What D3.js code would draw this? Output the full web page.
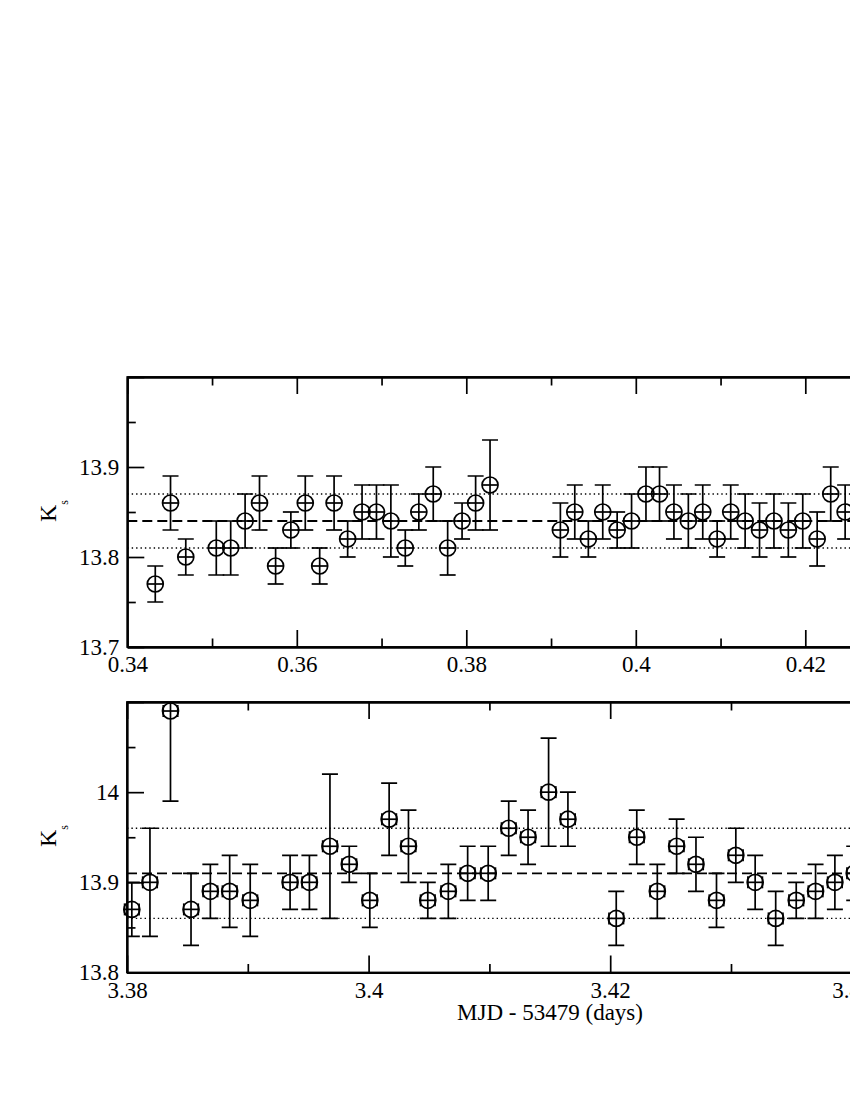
<!DOCTYPE html>
<html>
<head>
<meta charset="utf-8">
<script src="https://cdn.jsdelivr.net/npm/d3@7"></script>
<style>
  body { margin: 0; background: #fff; }
  svg text { font-family: "Liberation Serif", "DejaVu Serif", serif; }
</style>
</head>
<body>
<script>
// top panel: MJD - 53479 around 0.34..0.43
var topX = [0.3433,0.3451,0.3469,0.3505,0.3522,0.3539,0.3556,0.3575,0.3593,0.3610,
            0.3627,0.3644,0.3660,0.3677,0.3694,0.3711,0.3728,0.3744,0.3761,0.3778,
            0.3795,0.3811,0.3828,0.3911,0.3928,0.3944,0.3961,0.3978,0.3995,0.4012,
            0.4028,0.4045,0.4062,0.4079,0.4096,0.4112,0.4129,0.4146,0.4163,0.4180,
            0.4197,0.4214,0.4230,0.4247,0.4264];
var topY = [13.77,13.86,13.80,13.81,13.81,13.84,13.86,13.79,13.83,13.86,
            13.79,13.86,13.82,13.85,13.85,13.84,13.81,13.85,13.87,13.81,
            13.84,13.86,13.88,13.83,13.85,13.82,13.85,13.83,13.84,13.87,
            13.87,13.85,13.84,13.85,13.82,13.85,13.84,13.83,13.84,13.83,
            13.84,13.82,13.87,13.85,13.88];
var topErr = [0.02,0.03,0.02,0.03,0.03,0.03,0.03,0.02,0.02,0.03,
              0.02,0.03,0.02,0.03,0.03,0.04,0.02,0.02,0.03,0.03,
              0.02,0.03,0.05,0.03,0.03,0.02,0.03,0.02,0.03,0.03,
              0.03,0.03,0.03,0.03,0.02,0.03,0.03,0.03,0.03,0.03,
              0.03,0.03,0.03,0.03,0.03];
var topMean = 13.84, topSigma = 0.03;

// bottom panel: around 3.38..3.44
var botX = [3.3804,3.3819,3.3836,3.3853,3.3869,3.3885,3.3902,3.3935,3.3951,3.3968,
            3.3984,3.4001,3.4017,3.4033,3.4049,3.4066,3.4082,3.4099,3.4116,3.4132,
            3.4149,3.4165,3.4205,3.4222,3.4239,3.4255,3.4271,3.4288,3.4304,3.4320,
            3.4337,3.4354,3.4370,3.4386,3.4402];
var botY = [13.87,13.90,14.09,13.87,13.89,13.89,13.88,13.90,13.90,13.94,
            13.92,13.88,13.97,13.94,13.88,13.89,13.91,13.91,13.96,13.95,
            14.00,13.97,13.86,13.95,13.89,13.94,13.92,13.88,13.93,13.90,
            13.86,13.88,13.89,13.90,13.91];
var botErr = [0.03,0.06,0.10,0.04,0.03,0.04,0.04,0.03,0.03,0.08,
              0.02,0.03,0.04,0.04,0.02,0.03,0.03,0.03,0.03,0.03,
              0.06,0.03,0.03,0.03,0.03,0.03,0.03,0.03,0.03,0.03,
              0.03,0.02,0.03,0.03,0.03];
var botMean = 13.91, botSigma = 0.05;

var topXMajor = [0.34,0.36,0.38,0.40,0.42,0.44], topXMinor = [0.35,0.37,0.39,0.41,0.43];
var topYMajor = [13.7,13.8,13.9,14.0], topYMinor = [13.75,13.85,13.95], topYLabels = [13.7,13.8,13.9];
var botXMajor = [3.38,3.40,3.42,3.44], botXMinor = [3.39,3.41,3.43];
var botYMajor = [13.8,13.9,14.0,14.1], botYMinor = [13.85,13.95,14.05], botYLabels = [13.8,13.9,14.0];

var serif = "Liberation Serif, DejaVu Serif, serif";

var svg = d3.select("body").append("svg")
    .attr("width", 850)
    .attr("height", 1100);

svg.append("rect").attr("width", 850).attr("height", 1100).attr("fill", "#fff");

var fmt = function(d) { return String(+d.toFixed(2)); };

function drawPanel(p) {
  var x = d3.scaleLinear().domain(p.xDomain).range(p.xRange),
      y = d3.scaleLinear().domain(p.yDomain).range(p.yRange);
  var left = p.xRange[0], right = p.xRange[1], bottom = p.yRange[0], top = p.yRange[1];
  var g = svg.append("g");

  g.append("clipPath").attr("id", p.id)
    .append("rect")
      .attr("x", left).attr("y", top)
      .attr("width", right - left).attr("height", bottom - top);

  // mean and +-sigma lines
  var ref = g.append("g").attr("clip-path", "url(#" + p.id + ")");
  ref.append("line")
      .attr("x1", left).attr("x2", right)
      .attr("y1", y(p.mean)).attr("y2", y(p.mean))
      .attr("stroke", "#000").attr("stroke-width", 1.8)
      .attr("stroke-dasharray", "10,5");
  [p.mean - p.sigma, p.mean + p.sigma].forEach(function(v) {
    ref.append("line")
        .attr("x1", left).attr("x2", right)
        .attr("y1", y(v)).attr("y2", y(v))
        .attr("stroke", "#000").attr("stroke-width", 1.4)
        .attr("stroke-dasharray", "1.4,3");
  });

  // axes, ticks pointing inward
  function style(sel) {
    sel.attr("font-size", 23).attr("font-family", serif);
    sel.selectAll("text").attr("font-family", serif).attr("font-size", 23);
    sel.selectAll("line").attr("stroke-width", 1.7);
    sel.selectAll("path").attr("stroke-width", 1.8);
  }
  g.append("g").attr("transform", "translate(0," + bottom + ")")
      .call(d3.axisBottom(x).tickValues(p.xMajor).tickSize(-17).tickSizeOuter(0)
        .tickPadding(9).tickFormat(fmt)).call(style);
  g.append("g").attr("transform", "translate(0," + bottom + ")")
      .call(d3.axisBottom(x).tickValues(p.xMinor).tickSize(-8.5).tickSizeOuter(0)
        .tickFormat("")).call(style);
  g.append("g").attr("transform", "translate(0," + top + ")")
      .call(d3.axisTop(x).tickValues(p.xMajor).tickSize(-17).tickSizeOuter(0)
        .tickFormat("")).call(style);
  g.append("g").attr("transform", "translate(0," + top + ")")
      .call(d3.axisTop(x).tickValues(p.xMinor).tickSize(-8.5).tickSizeOuter(0)
        .tickFormat("")).call(style);
  g.append("g").attr("transform", "translate(" + left + ",0)")
      .call(d3.axisLeft(y).tickValues(p.yMajor).tickSize(-17).tickSizeOuter(0)
        .tickPadding(8).tickFormat(function(d) {
          return p.yLabels.some(function(v) { return Math.abs(v - d) < 1e-9; }) ? fmt(d) : "";
        })).call(style);
  g.append("g").attr("transform", "translate(" + left + ",0)")
      .call(d3.axisLeft(y).tickValues(p.yMinor).tickSize(-8.5).tickSizeOuter(0)
        .tickFormat("")).call(style);
  g.append("g").attr("transform", "translate(" + right + ",0)")
      .call(d3.axisRight(y).tickValues(p.yMajor).tickSize(-17).tickSizeOuter(0)
        .tickFormat("")).call(style);

  g.append("rect")
      .attr("x", left).attr("y", top)
      .attr("width", right - left).attr("height", bottom - top)
      .attr("fill", "none").attr("stroke", "#000").attr("stroke-width", 1.8);

  var data = p.xs.map(function(d, i) { return { x: d, y: p.ys[i], e: p.errs[i] }; });

  // error bars
  var bars = g.append("g").attr("clip-path", "url(#" + p.id + ")")
      .attr("stroke", "#000").attr("stroke-width", 1.7).attr("fill", "none");
  var pts = bars.selectAll(".eb").data(data).enter().append("g").attr("class", "eb");
  pts.append("line")
      .attr("x1", function(d) { return x(d.x); }).attr("x2", function(d) { return x(d.x); })
      .attr("y1", function(d) { return y(d.y + d.e); }).attr("y2", function(d) { return y(d.y - d.e); });
  [1, -1].forEach(function(s) {
    pts.append("line")
        .attr("x1", function(d) { return x(d.x) - 8; }).attr("x2", function(d) { return x(d.x) + 8; })
        .attr("y1", function(d) { return y(d.y + s * d.e); }).attr("y2", function(d) { return y(d.y + s * d.e); });
  });

  // markers with x error bars
  var mk = g.append("g").attr("stroke", "#000").attr("stroke-width", 1.7).attr("fill", "none");
  var m = mk.selectAll(".mk").data(data).enter().append("g").attr("class", "mk");
  m.append("circle")
      .attr("cx", function(d) { return x(d.x); })
      .attr("cy", function(d) { return y(d.y); })
      .attr("r", 8);
  m.append("line")
      .attr("x1", function(d) { return x(d.x - p.xErr); }).attr("x2", function(d) { return x(d.x + p.xErr); })
      .attr("y1", function(d) { return y(d.y); }).attr("y2", function(d) { return y(d.y); });
  if (p.capH > 0) {
    [-1, 1].forEach(function(s) {
      m.append("line")
          .attr("x1", function(d) { return x(d.x + s * p.xErr); }).attr("x2", function(d) { return x(d.x + s * p.xErr); })
          .attr("y1", function(d) { return y(d.y) - p.capH / 2; }).attr("y2", function(d) { return y(d.y) + p.capH / 2; });
    });
  }

  // y label K_s
  var lab = svg.append("text")
      .attr("transform", "translate(56," + p.labelY + ") rotate(-90)")
      .attr("font-family", serif)
      .attr("font-size", 24);
  lab.append("tspan").text("K");
  lab.append("tspan").attr("font-size", 12).attr("dy", 12).text("s");
}

drawPanel({
  id: "clipTop",
  xDomain: [0.34, 0.44], xRange: [127.3, 974.8],
  yDomain: [13.7, 14.0], yRange: [647, 377],
  xMajor: topXMajor, xMinor: topXMinor, yMajor: topYMajor, yMinor: topYMinor, yLabels: topYLabels,
  xs: topX, ys: topY, errs: topErr, mean: topMean, sigma: topSigma,
  xErr: 0.00092, capH: 0, labelY: 522
});

drawPanel({
  id: "clipBot",
  xDomain: [3.38, 3.45], xRange: [127, 972.6],
  yDomain: [13.8, 14.1], yRange: [972.5, 702],
  xMajor: botXMajor, xMinor: botXMinor, yMajor: botYMajor, yMinor: botYMinor, yLabels: botYLabels,
  xs: botX, ys: botY, errs: botErr, mean: botMean, sigma: botSigma,
  xErr: 0.0006, capH: 12, labelY: 847
});

svg.append("text")
    .attr("x", 550).attr("y", 1020)
    .attr("text-anchor", "middle")
    .attr("font-family", serif)
    .attr("font-size", 23)
    .text("MJD - 53479 (days)");
</script>
</body>
</html>
